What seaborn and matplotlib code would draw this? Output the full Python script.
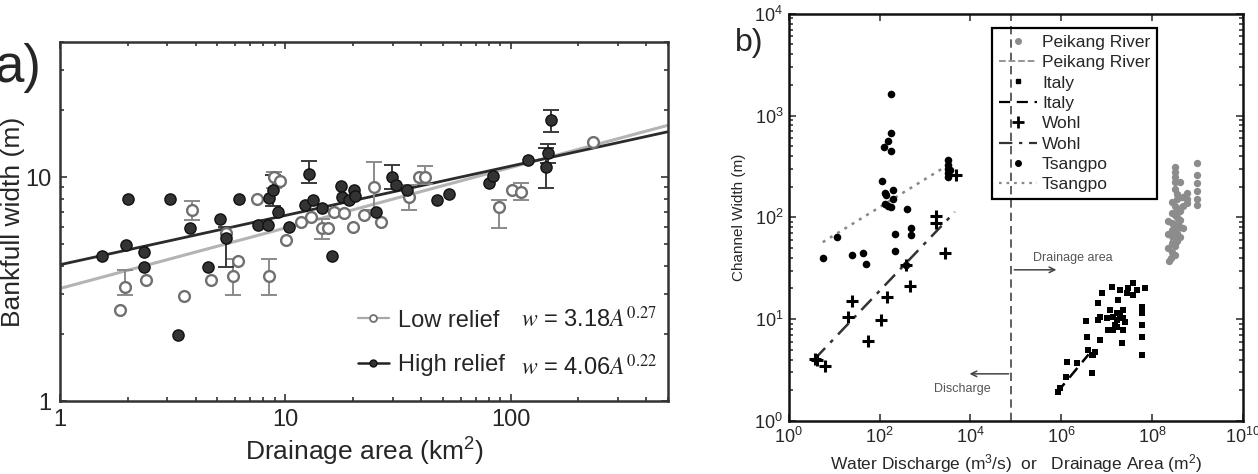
import numpy as np
import pandas as pd
import matplotlib
matplotlib.use("Agg")
import matplotlib.pyplot as plt
import seaborn as sns
from matplotlib.lines import Line2D
from matplotlib.ticker import FixedLocator, NullLocator, NullFormatter, FuncFormatter, LogFormatterSciNotation, LogLocator

sns.set_style("ticks")
plt.rcParams['font.family'] = ['Liberation Sans', 'DejaVu Sans']
plt.rcParams['mathtext.fontset'] = 'stix'
plt.rcParams['mathtext.default'] = 'regular'

# ---- panel a : bankfull width vs drainage area ----
high_A = [1.54, 1.97, 2.01, 2.35, 2.35, 3.07, 3.33, 3.77, 4.53, 5.13, 5.45, 6.23, 7.57, 8.4,
          8.48, 8.84, 9.3, 10.4, 12.8, 12.2, 13.3, 14.5, 16.2, 17.6, 20.1, 17.8, 19.1, 20.3,
          25.2, 29.7, 31.0, 34.7, 47.2, 53.4, 80.6, 84.0, 120, 151, 146, 143]
high_w = [4.44, 4.97, 7.98, 4.63, 3.97, 7.98, 1.97, 5.92, 3.97, 6.49, 5.34, 7.98, 6.1, 6.1,
          8.06, 8.75, 6.98, 5.98, 10.3, 7.5, 7.9, 7.27, 4.44, 9.12, 8.75, 8.14, 7.9, 8.2,
          6.98, 10.0, 9.21, 8.75, 7.9, 8.4, 9.4, 10.1, 11.9, 17.96, 12.8, 11.1]
# error bars (lower / upper bound) for some high relief sites
high_err_A = [5.45, 8.84, 12.8, 29.7, 151, 146, 143]
high_err_w = [5.34, 8.75, 10.3, 10.0, 17.96, 12.8, 11.1]
high_err_lo = [3.97, 7.4, 9.4, 8.8, 15.9, 11.5, 8.9]
high_err_hi = [6.0, 10.2, 11.8, 11.3, 19.9, 14.0, 13.5]

low_A = [1.85, 1.95, 2.42, 3.54, 3.84, 4.67, 5.86, 6.17, 7.5, 8.48, 8.93, 10.1, 11.8, 14.6,
         16.5, 18.3, 22.3, 24.7, 35.4, 39.2, 41.8, 89.3, 102, 111, 232, 5.45, 13.0, 15.5,
         20.0, 26.5, 9.5]
low_w = [2.55, 3.23, 3.47, 2.94, 7.12, 3.47, 3.61, 4.22, 7.98, 3.61, 10.0, 5.23, 6.3, 5.92,
         6.98, 6.9, 6.77, 9.02, 8.14, 10.0, 10.0, 7.35, 8.75, 8.57, 14.3, 5.6, 6.6, 5.9,
         6.0, 6.3, 9.6]
low_err_A = [1.95, 3.84, 5.86, 8.48, 8.93, 14.6, 24.7, 35.4, 41.8, 89.3, 111]
low_err_w = [3.23, 7.12, 3.61, 3.61, 10.0, 5.92, 9.02, 8.14, 10.0, 7.35, 8.57]
low_err_lo = [2.97, 6.43, 2.97, 2.97, 8.9, 5.3, 7.1, 7.1, 9.3, 5.9, 7.9]
low_err_hi = [3.84, 7.8, 4.3, 4.3, 10.5, 6.5, 11.7, 9.2, 11.2, 7.9, 9.4]

# power law fits  w = c * A^b
low_fit = (3.18, 0.27)
high_fit = (4.06, 0.22)

# ---- panel b : channel width vs discharge / drainage area ----
tsangpo_x = [5.6, 11.4, 24.4, 42.7, 49.7, 112, 130, 195, 140, 200, 130, 150, 175, 177, 177,
             152, 124, 177, 398, 487, 487, 216, 216, 378, 3177, 3177, 3177, 3177, 3177, 3600]
tsangpo_w = [40, 64, 43, 45, 35, 228, 174, 186, 166, 152, 135, 130, 125, 1636, 677,
             565, 493, 451, 121, 79, 67, 69, 47, 34, 367, 330, 300, 275, 250, 290]
tsangpo_fit_x = [5.6, 3020]
tsangpo_fit_w = [57, 321]

wohl_x = [3.74, 4.2, 6.3, 20, 24.4, 55, 106, 144, 378, 462, 1730, 1730, 2730, 4770]
wohl_w = [4.07, 4.0, 3.5, 10.5, 15.1, 6.1, 9.8, 16.5, 34, 21.2, 103, 88, 45, 262]
wohl_fit_x = [3.74, 4530]
wohl_fit_w = [4.07, 113]

italy_x = [8.41e5, 9.3e5, 1.26e6, 1.33e6, 2.21e6, 4.72e6, 3.85e6, 4.97e6, 3.66e6, 3.48e6,
           7.08e6, 6.4e6, 7.08e6, 6.4e6, 7.8e6, 1.3e7, 1.95e7, 1.37e7, 1.37e7, 1.68e7,
           1.68e7, 1.68e7, 2.27e7, 2.27e7, 2.27e7, 2.16e7, 2.79e7, 3.78e7, 3.78e7, 5.96e7,
           5.96e7, 5.96e7, 5.96e7, 5.96e7, 6.9e7, 5.5e6, 1.06e7, 1.01e7, 1.17e7, 1.77e7,
           1.52e7, 1.95e7, 2.52e7, 2.93e7, 4.6e7, 4.72e6]
italy_w = [1.93, 2.11, 2.7, 3.8, 3.7, 2.96, 5.0, 4.45, 6.7, 9.6,
           6.25, 9.8, 10.5, 14.4, 18.1, 20.7, 19.4, 10.5, 7.8, 11.5,
           9.8, 8.4, 12.3, 10.3, 7.8, 5.8, 18.1, 22.7, 17.3, 13.2,
           11.5, 8.8, 6.7, 4.45, 20.3, 4.76, 7.8, 10.3, 12.3, 15.4,
           8.8, 11.0, 9.4, 20.3, 19.4, 4.45]
italy_fit_x = [7.9e5, 4.0e6]
italy_fit_w = [1.88, 4.5]

peikang_x = [3.18e8, 3.18e8, 3.18e8, 3.18e8, 3.18e8, 3.52e8, 3.52e8, 2.73e8, 3.18e8, 3.52e8,
             4.1e8, 2.73e8, 3.18e8, 3.52e8, 4.1e8, 2.23e8, 2.73e8, 3.18e8, 3.52e8, 4.1e8,
             4.77e8, 2.73e8, 3.18e8, 3.52e8, 2.23e8, 2.73e8, 3.18e8, 4.1e8, 3.52e8, 2.73e8,
             3.18e8, 2.23e8, 2.73e8, 3.18e8, 2.6e8, 2.4e8, 5.85e8, 5.85e8, 5.85e8, 4.77e8,
             9.7e8, 9.7e8, 9.7e8, 9.7e8, 9.7e8, 9.7e8, 4.1e8, 4.77e8]
peikang_w = [313, 280, 250, 220, 190, 170, 150, 140, 130, 120,
             115, 110, 105, 100, 95, 92, 88, 85, 82, 80,
             78, 75, 72, 70, 68, 65, 62, 64, 58, 55,
             52, 50, 46, 43, 40, 37, 172, 150, 138, 160,
             343, 260, 215, 180, 150, 133, 220, 130]
peikang_fit_x = [2.5e8, 5.0e8]
peikang_fit_w = [55, 170]

df_low = pd.DataFrame({'A': low_A, 'w': low_w})
df_high = pd.DataFrame({'A': high_A, 'w': high_w})

fig = plt.figure(figsize=(12.58, 4.74), dpi=100)
ax1 = fig.add_axes([0.0477, 0.154, 0.4833, 0.757])
ax2 = fig.add_axes([0.627, 0.112, 0.361, 0.859])

# ---------- panel a ----------
A_line = np.logspace(0, np.log10(500), 60)
ax1.plot(A_line, low_fit[0] * A_line ** low_fit[1], color='#b4b4b4', lw=2.2, zorder=2)
ax1.plot(A_line, high_fit[0] * A_line ** high_fit[1], color='#2b2b2b', lw=2.0, zorder=2)

ax1.errorbar(low_err_A, low_err_w,
             yerr=[np.array(low_err_w) - np.array(low_err_lo), np.array(low_err_hi) - np.array(low_err_w)],
             fmt='none', ecolor='#8a8a8a', elinewidth=1.4, capsize=6, capthick=1.4, zorder=2.5)
ax1.errorbar(high_err_A, high_err_w,
             yerr=[np.array(high_err_w) - np.array(high_err_lo), np.array(high_err_hi) - np.array(high_err_w)],
             fmt='none', ecolor='#3a3a3a', elinewidth=1.4, capsize=6, capthick=1.4, zorder=2.6)

sns.scatterplot(data=df_low, x='A', y='w', marker='o', s=60, color='white',
                edgecolor='#707070', linewidth=1.7, ax=ax1, zorder=3)
sns.scatterplot(data=df_high, x='A', y='w', marker='o', s=65, color='#333333',
                edgecolor='#111111', linewidth=1.0, ax=ax1, zorder=4)

ax1.set_xscale('log')
ax1.set_yscale('log')
ax1.set_xlim(1, 500)
ax1.set_ylim(1, 40)
fmt_plain = FuncFormatter(lambda v, p: f"{v:g}")
ax1.xaxis.set_major_formatter(fmt_plain)
ax1.yaxis.set_major_formatter(fmt_plain)
ax1.xaxis.set_minor_formatter(NullFormatter())
ax1.yaxis.set_minor_formatter(NullFormatter())
ax1.tick_params(which='both', direction='in', top=True, right=True, labelsize=17,
                width=1.2, color='#333333')
ax1.tick_params(which='major', length=5, pad=6)
ax1.tick_params(which='minor', length=3)
for sp in ax1.spines.values():
    sp.set_linewidth(1.8)
    sp.set_color('#333333')
ax1.set_xlabel('Drainage area (km$^2$)', fontsize=19, labelpad=3)
ax1.set_ylabel('Bankfull width (m)', fontsize=19)
ax1.yaxis.set_label_coords(-0.058, 0.5)

h_low = Line2D([], [], color='#a8a8a8', lw=1.6, marker='o', ms=5, mfc='white', mec='#707070', mew=1.3)
h_high = Line2D([], [], color='#222222', lw=1.8, marker='o', ms=5, mfc='#333333', mec='#111111')
ax1.legend(handles=[h_low, h_high], labels=['Low relief', 'High relief'], frameon=False,
           fontsize=17, loc='center left', bbox_to_anchor=(0.49, 0.162), handlelength=1.3,
           handletextpad=0.4, labelspacing=0.95, borderpad=0, borderaxespad=0)
ax1.text(0.758, 0.228, r"$\it{w}$ = 3.18$\it{A}^{0.27}$", transform=ax1.transAxes,
         va='center', fontsize=17, color='#222222')
ax1.text(0.758, 0.095, r"$\it{w}$ = 4.06$\it{A}^{0.22}$", transform=ax1.transAxes,
         va='center', fontsize=17, color='#222222')

fig.text(-0.004, 0.857, 'a)', fontsize=38, va='center', ha='left')

# ---------- panel b ----------
ax2.axvline(8e4, color='#444444', ls=(0, (5, 3)), lw=1.2, zorder=1)

sns.scatterplot(x=peikang_x, y=peikang_w, marker='o', s=28, color='#8c8c8c',
                edgecolor='#8c8c8c', linewidth=0, ax=ax2, zorder=3)
sns.scatterplot(x=italy_x, y=italy_w, marker='s', s=22, color='black',
                edgecolor='black', linewidth=0, ax=ax2, zorder=3)
sns.scatterplot(x=tsangpo_x, y=tsangpo_w, marker='o', s=30, color='black',
                edgecolor='black', linewidth=0, ax=ax2, zorder=3)
sns.scatterplot(x=wohl_x, y=wohl_w, marker='+', s=70, color='black', linewidth=2.2,
                ax=ax2, zorder=3)

ax2.plot(peikang_fit_x, peikang_fit_w, color='#8c8c8c', ls='--', lw=1.5, zorder=2)
ax2.plot(italy_fit_x, italy_fit_w, color='black', ls=(0, (5, 3)), lw=1.8, zorder=2)
ax2.plot(wohl_fit_x, wohl_fit_w, color='#333333', ls=(0, (6, 3, 1.5, 3)), lw=1.8, zorder=2)
ax2.plot(tsangpo_fit_x, tsangpo_fit_w, color='#888888', ls=(0, (1.2, 2.2)), lw=1.8, zorder=2)

ax2.annotate('', xy=(9e5, 30.5), xytext=(8e4, 30.5),
             arrowprops=dict(arrowstyle='->', color='#444444', lw=1.1))
ax2.text(2.35e5, 40, 'Drainage area', fontsize=9, color='#555555', va='center')
ax2.annotate('', xy=(8.3e3, 2.9), xytext=(8e4, 2.9),
             arrowprops=dict(arrowstyle='->', color='#444444', lw=1.1))
ax2.text(6.5e3, 2.06, 'Discharge', fontsize=9, color='#555555', va='center', ha='center')

ax2.set_xscale('log')
ax2.set_yscale('log')
ax2.set_xlim(1, 1e10)
ax2.set_ylim(1, 1e4)
ax2.xaxis.set_major_locator(FixedLocator(10.0 ** np.arange(0, 11, 2)))
ax2.xaxis.set_minor_locator(NullLocator())
ax2.xaxis.set_major_formatter(LogFormatterSciNotation())
ax2.yaxis.set_major_locator(LogLocator(base=10, numticks=10))
ax2.yaxis.set_minor_locator(LogLocator(base=10, subs=np.arange(2, 10), numticks=10))
ax2.yaxis.set_minor_formatter(NullFormatter())
ax2.tick_params(which='both', direction='in', top=True, right=True, labelsize=13, width=1.1)
ax2.tick_params(which='major', length=5, pad=4)
ax2.tick_params(which='minor', length=3)
for sp in ax2.spines.values():
    sp.set_linewidth(1.8)
    sp.set_color('#111111')
ax2.set_xlabel('Water Discharge (m$^3$/s)  or   Drainage Area (m$^2$)', fontsize=12.5, labelpad=4)
ax2.set_ylabel('Channel Width (m)', fontsize=11, labelpad=6)

handles_b = [
    Line2D([], [], ls='none', marker='o', ms=4, color='#8c8c8c'),
    Line2D([], [], ls='--', lw=1.3, color='#8c8c8c'),
    Line2D([], [], ls='none', marker='s', ms=3.5, color='black'),
    Line2D([], [], ls=(0, (5, 3)), lw=1.6, color='black'),
    Line2D([], [], ls='none', marker='+', ms=8, mew=2, color='black'),
    Line2D([], [], ls=(0, (6, 3, 1.5, 3)), lw=1.6, color='#333333'),
    Line2D([], [], ls='none', marker='o', ms=4, color='black'),
    Line2D([], [], ls=(0, (1.2, 2.2)), lw=1.6, color='#888888'),
]
labels_b = ['Peikang River', 'Peikang River', 'Italy', 'Italy', 'Wohl', 'Wohl', 'Tsangpo', 'Tsangpo']
leg = ax2.legend(handles=handles_b, labels=labels_b, loc='upper left',
                 bbox_to_anchor=(0.447, 0.9656), fontsize=12.5, fancybox=False,
                 facecolor='none', edgecolor='black', framealpha=1, handlelength=2.2,
                 handletextpad=0.3, labelspacing=0.3, borderpad=0.4, borderaxespad=0)
leg.get_frame().set_linewidth(1.6)

fig.text(0.584, 0.909, 'b)', fontsize=23, va='center', ha='left')

fig.savefig('out.png', dpi=100)
